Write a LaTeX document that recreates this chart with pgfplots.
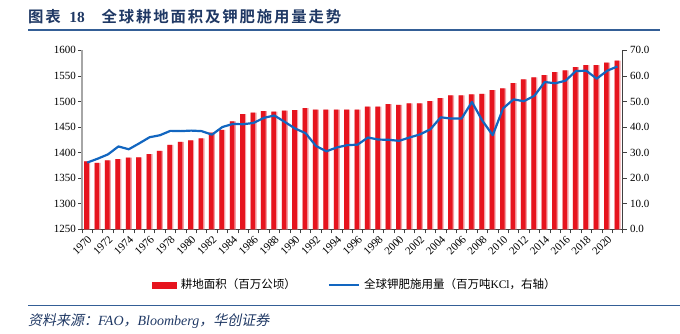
\documentclass[border=0pt]{standalone}
\usepackage{fontspec}
\setmainfont{Liberation Serif}
\newfontfamily\cjk{Noto Sans CJK SC}
\newfontfamily\cjktitle{Noto Sans CJK SC Bold}
\newfontfamily\cjkit[FakeSlant=0.2]{Noto Sans CJK SC}
\usepackage{pgfplots}
\usepackage{pgfplotstable}
\pgfplotsset{compat=1.18}
\definecolor{barred}{RGB}{230,20,30}
\definecolor{barpink}{RGB}{244,160,165}
\definecolor{lineblue}{RGB}{18,102,192}
\definecolor{titleblue}{RGB}{31,56,100}
\definecolor{rule}{RGB}{52,94,150}
\pgfplotstableread{
year area potash
1970 1383 26.1
1971 1380 27.6
1972 1385 29.3
1973 1387 32.4
1974 1390 31.3
1975 1390.5 33.6
1976 1397 36.0
1977 1403.5 36.8
1978 1415 38.5
1979 1421 38.4
1980 1424 38.6
1981 1428 38.4
1982 1439 37.0
1983 1444.6 40.0
1984 1461 41.2
1985 1475 41.1
1986 1478 41.6
1987 1481 43.6
1988 1480 44.5
1989 1482 42.0
1990 1483 39.4
1991 1487 37.6
1992 1484 32.6
1993 1484 30.5
1994 1484 32.0
1995 1484 32.9
1996 1484 33.1
1997 1490 35.9
1998 1490 35.1
1999 1495 35.0
2000 1493.5 34.6
2001 1496 35.9
2002 1496 37.1
2003 1500.7 39.1
2004 1506.6 43.8
2005 1512 43.3
2006 1512 43.3
2007 1514 49.8
2008 1515 42.5
2009 1522 36.8
2010 1525.6 47.3
2011 1536 50.8
2012 1543 50.1
2013 1547 52.2
2014 1551.6 57.6
2015 1557.5 57.1
2016 1561 58.1
2017 1567 61.9
2018 1571 62.0
2019 1571 58.9
2020 1576 62.0
2021 1580 63.7
}\datatable
\begin{document}
\begin{tikzpicture}
\path[use as bounding box] (0pt,0pt) rectangle (680pt,333pt);
\node[anchor=west, inner sep=0pt, text=titleblue] at (28pt,316.5pt)
  {\cjktitle\fontsize{15.4}{18}\selectfont\addfontfeature{LetterSpace=12}图表\hspace{0.55em}{\rmfamily\bfseries 18}\hspace{1.1em}全球耕地面积及钾肥施用量走势};
\draw[rule, line width=2pt] (28pt,303.5pt) -- (660pt,303.5pt);
\begin{axis}[
  at={(82pt,103.7pt)}, anchor=south west,
  scale only axis, width=540.7pt, height=179pt,
  xmin=1969.5, xmax=2021.5,
  ymin=1250, ymax=1600,
  axis y line*=left, axis x line*=bottom,
  ytick={1250,1300,...,1600},
  xtick={1970,1972,...,2020},
  minor xtick={1969.5,1970.5,...,2021.5},
  major x tick style={draw=none},
  tick align=outside,
  major tick length=4pt, minor tick length=4pt,
  tick style={black!75, line width=0.7pt},
  y axis line style={draw=gray!70, line width=1.2pt},
  x axis line style={draw=black!75, line width=0.8pt},
  /pgf/number format/1000 sep={},
  /pgf/number format/assume math mode=true,
  ticklabel style={font=\fontsize{11}{13}\selectfont},
  xticklabel style={rotate=45, anchor=north east, inner sep=1pt},
  yticklabel style={inner sep=2pt},
  clip=true,
]
\addplot[ybar, bar width=6pt, bar shift=0pt, fill=barpink, draw=none] table[x=year,y=area]{\datatable};
\addplot[ybar, bar width=4.6pt, bar shift=-0.7pt, fill=barred, draw=none] table[x=year,y=area]{\datatable};
\end{axis}
\begin{axis}[
  at={(82pt,103.7pt)}, anchor=south west,
  scale only axis, width=540.7pt, height=179pt,
  xmin=1969.5, xmax=2021.5,
  ymin=0, ymax=70,
  axis y line*=right, axis x line=none,
  ytick={0,10,...,70},
  tick align=outside,
  major tick length=4pt,
  tick style={black!75, line width=0.7pt},
  y axis line style={draw=black!75, line width=1pt},
  yticklabel style={/pgf/number format/.cd, fixed, fixed zerofill, precision=1, assume math mode=true},
  ticklabel style={font=\fontsize{11}{13}\selectfont},
  legend style={at={(0.505,-0.31)}, anchor=center, draw=none, fill=none,
    legend columns=2, font=\cjk\fontsize{11.5}{13}\selectfont,
    /tikz/every even column/.append style={column sep=30pt},
    /tikz/every odd column/.append style={column sep=2pt}},
]
\addlegendimage{legend image code/.code={\fill[barred] (0pt,-3pt) rectangle (24pt,3pt);}}
\addlegendentry{耕地面积（百万公顷）}
\addplot[lineblue, line width=2.2pt, line join=round,
  legend image code/.code={\draw[lineblue, line width=2.2pt] (0pt,0pt) -- (30pt,0pt);}]
  table[x=year,y=potash]{\datatable};
\addlegendentry{全球钾肥施用量（百万吨{\rmfamily KCl}，右轴）}
\end{axis}
\draw[rule, line width=1.5pt] (28pt,27.5pt) -- (680pt,27.5pt);
\node[anchor=west, inner sep=0pt, text=titleblue] at (28pt,12pt)
  {\fontsize{14}{16}\selectfont\cjkit 资料来源：{\rmfamily\itshape FAO}，{\rmfamily\itshape Bloomberg}，华创证券};
\end{tikzpicture}
\end{document}
